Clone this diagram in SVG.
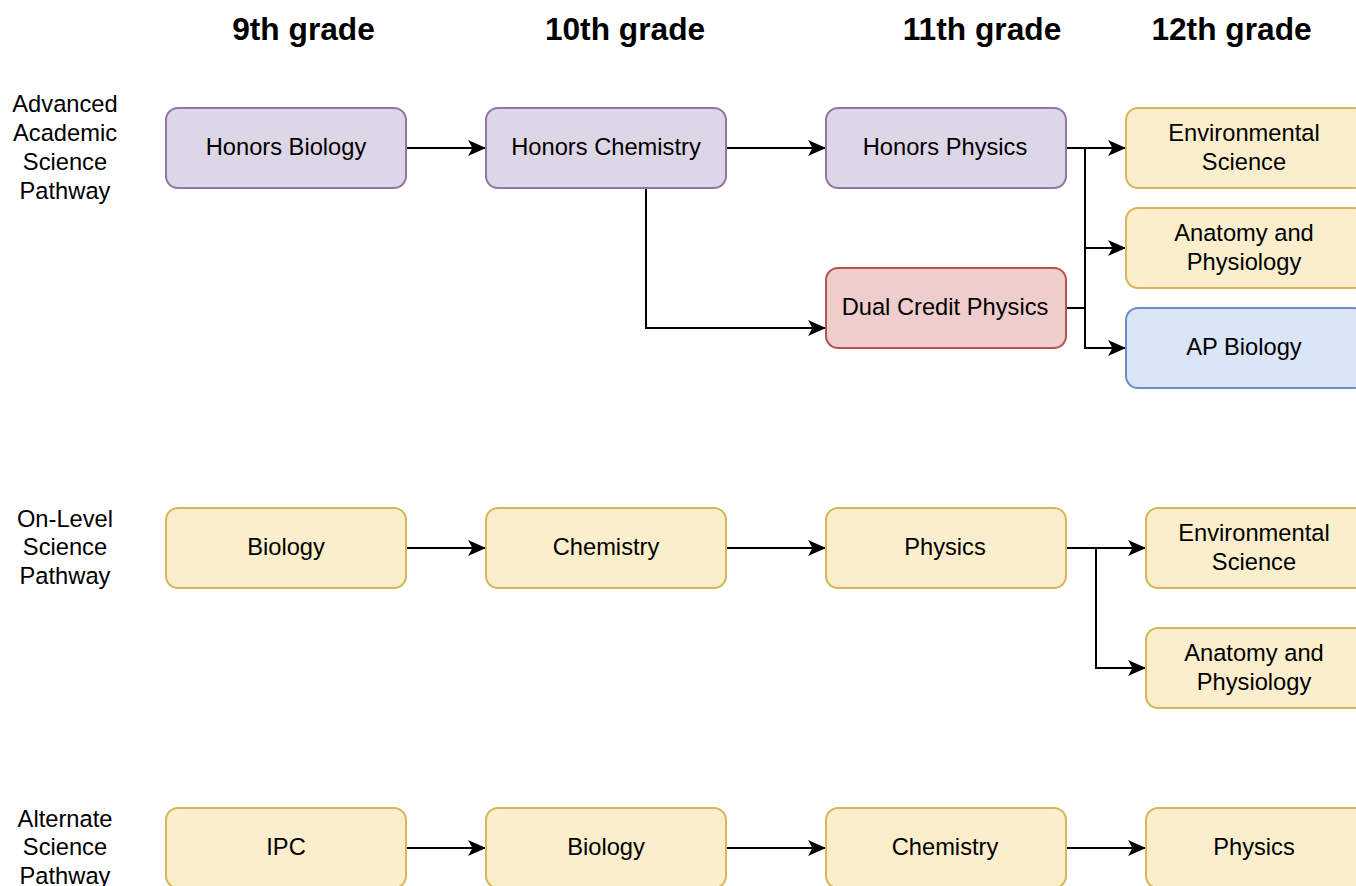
<svg xmlns="http://www.w3.org/2000/svg" width="1356" height="886" viewBox="0 0 1356 886">
  <style>
    .box { stroke-width: 2; }
    .purple { fill: #ddd6e7; stroke: #9673a6; }
    .yellow { fill: #faeecc; stroke: #d6b656; }
    .red { fill: #f0cdcd; stroke: #b85450; }
    .blue { fill: #dae5f8; stroke: #6c8ebf; }
    text { font-family: "Liberation Sans", Arial, Helvetica, sans-serif; fill: #000; }
    .lbl { font-size: 23.7px; text-anchor: middle; }
    .head { font-size: 31.7px; font-weight: bold; text-anchor: middle; }
    .edge { fill: none; stroke: #000; stroke-width: 2; }
  </style>
  <defs>
    <marker id="arrow" viewBox="0 0 18 16" refX="18" refY="8" markerWidth="18" markerHeight="16" markerUnits="userSpaceOnUse" orient="auto">
      <path d="M18,8 L0,0 L4.5,8 L0,16 Z" fill="#000"/>
    </marker>
  </defs>
  <rect width="1356" height="886" fill="#fff"/>

  <!-- column headings -->
  <g id="headings">
    <text class="head" x="303.5" y="40">9th grade</text>
    <text class="head" x="625" y="40">10th grade</text>
    <text class="head" x="982" y="40">11th grade</text>
    <text class="head" x="1231.5" y="40">12th grade</text>
  </g>

  <!-- row labels -->
  <g id="row-advanced">
    <text class="lbl" x="65" y="112">Advanced</text>
    <text class="lbl" x="65" y="141">Academic</text>
    <text class="lbl" x="65" y="170">Science</text>
    <text class="lbl" x="65" y="199">Pathway</text>
  </g>
  <g id="row-onlevel">
    <text class="lbl" x="65" y="527">On-Level</text>
    <text class="lbl" x="65" y="555">Science</text>
    <text class="lbl" x="65" y="584">Pathway</text>
  </g>
  <g id="row-alternate">
    <text class="lbl" x="65" y="827">Alternate</text>
    <text class="lbl" x="65" y="855">Science</text>
    <text class="lbl" x="65" y="884">Pathway</text>
  </g>

  <!-- connectors -->
  <g id="connectors">
    <path class="edge" d="M406,148 H486" marker-end="url(#arrow)"/>
    <path class="edge" d="M726,148 H826" marker-end="url(#arrow)"/>
    <path class="edge" d="M646,188 V328 H826" marker-end="url(#arrow)"/>
    <path class="edge" d="M1066,148 H1126" marker-end="url(#arrow)"/>
    <path class="edge" d="M1085,148 V248 H1126" marker-end="url(#arrow)"/>
    <path class="edge" d="M1085,148 V348 H1126" marker-end="url(#arrow)"/>
    <path class="edge" d="M1066,308 H1085"/>

    <path class="edge" d="M406,548 H486" marker-end="url(#arrow)"/>
    <path class="edge" d="M726,548 H826" marker-end="url(#arrow)"/>
    <path class="edge" d="M1066,548 H1146" marker-end="url(#arrow)"/>
    <path class="edge" d="M1096,548 V668 H1146" marker-end="url(#arrow)"/>

    <path class="edge" d="M406,848 H486" marker-end="url(#arrow)"/>
    <path class="edge" d="M726,848 H826" marker-end="url(#arrow)"/>
    <path class="edge" d="M1066,848 H1146" marker-end="url(#arrow)"/>
  </g>

  <!-- advanced pathway -->
  <g id="honors-biology">
    <rect class="box purple" x="166" y="108" width="240" height="80" rx="12"/>
    <text class="lbl" x="286" y="155">Honors Biology</text>
  </g>
  <g id="honors-chemistry">
    <rect class="box purple" x="486" y="108" width="240" height="80" rx="12"/>
    <text class="lbl" x="606" y="155">Honors Chemistry</text>
  </g>
  <g id="honors-physics">
    <rect class="box purple" x="826" y="108" width="240" height="80" rx="12"/>
    <text class="lbl" x="945" y="155">Honors Physics</text>
  </g>
  <g id="dual-credit-physics">
    <rect class="box red" x="826" y="268" width="240" height="80" rx="12"/>
    <text class="lbl" x="945" y="315">Dual Credit Physics</text>
  </g>
  <g id="adv-environmental-science">
    <rect class="box yellow" x="1126" y="108" width="240" height="80" rx="12"/>
    <text class="lbl" x="1244" y="141">Environmental</text>
    <text class="lbl" x="1244" y="170">Science</text>
  </g>
  <g id="adv-anatomy-physiology">
    <rect class="box yellow" x="1126" y="208" width="240" height="80" rx="12"/>
    <text class="lbl" x="1244" y="241">Anatomy and</text>
    <text class="lbl" x="1244" y="270">Physiology</text>
  </g>
  <g id="ap-biology">
    <rect class="box blue" x="1126" y="308" width="240" height="80" rx="12"/>
    <text class="lbl" x="1244" y="355">AP Biology</text>
  </g>

  <!-- on-level pathway -->
  <g id="biology">
    <rect class="box yellow" x="166" y="508" width="240" height="80" rx="12"/>
    <text class="lbl" x="286" y="555">Biology</text>
  </g>
  <g id="chemistry">
    <rect class="box yellow" x="486" y="508" width="240" height="80" rx="12"/>
    <text class="lbl" x="606" y="555">Chemistry</text>
  </g>
  <g id="physics">
    <rect class="box yellow" x="826" y="508" width="240" height="80" rx="12"/>
    <text class="lbl" x="945" y="555">Physics</text>
  </g>
  <g id="onlevel-environmental-science">
    <rect class="box yellow" x="1146" y="508" width="240" height="80" rx="12"/>
    <text class="lbl" x="1254" y="541">Environmental</text>
    <text class="lbl" x="1254" y="570">Science</text>
  </g>
  <g id="onlevel-anatomy-physiology">
    <rect class="box yellow" x="1146" y="628" width="240" height="80" rx="12"/>
    <text class="lbl" x="1254" y="661">Anatomy and</text>
    <text class="lbl" x="1254" y="690">Physiology</text>
  </g>

  <!-- alternate pathway -->
  <g id="ipc">
    <rect class="box yellow" x="166" y="808" width="240" height="80" rx="12"/>
    <text class="lbl" x="286" y="855">IPC</text>
  </g>
  <g id="alt-biology">
    <rect class="box yellow" x="486" y="808" width="240" height="80" rx="12"/>
    <text class="lbl" x="606" y="855">Biology</text>
  </g>
  <g id="alt-chemistry">
    <rect class="box yellow" x="826" y="808" width="240" height="80" rx="12"/>
    <text class="lbl" x="945" y="855">Chemistry</text>
  </g>
  <g id="alt-physics">
    <rect class="box yellow" x="1146" y="808" width="240" height="80" rx="12"/>
    <text class="lbl" x="1254" y="855">Physics</text>
  </g>
</svg>
